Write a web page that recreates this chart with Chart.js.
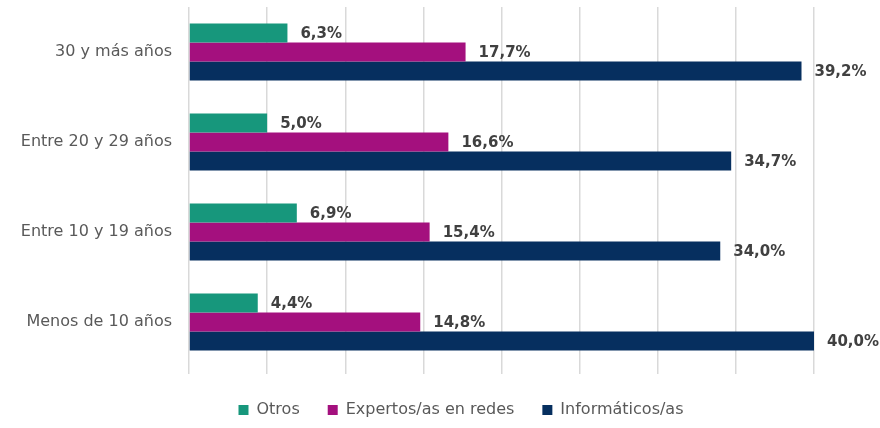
<!DOCTYPE html>
<html>
<head>
<meta charset="utf-8">
<script src="https://cdn.jsdelivr.net/npm/chart.js@4"></script>
<style>
  html, body { margin: 0; padding: 0; background: #fff; }
  #wrap { width: 880px; height: 428px; }
</style>
</head>
<body>
<div id="wrap"><canvas id="chart" width="880" height="428"></canvas></div>
<script>
const categories = ['30 y más años', 'Entre 20 y 29 años', 'Entre 10 y 19 años', 'Menos de 10 años'];
const seriesNames = ['Otros', 'Expertos/as en redes', 'Informáticos/as'];
const otros = [6.3, 5.0, 6.9, 4.4];
const expertos = [17.7, 16.6, 15.4, 14.8];
const informaticos = [39.2, 34.7, 34.0, 40.0];
const colors = ['#17977c', '#a4107e', '#062f5f'];

const fontFamily = "'DejaVu Sans', sans-serif";

// draws the value labels at the end of each bar
const valueLabels = {
  id: 'valueLabels',
  afterDatasetsDraw(chart) {
    const ctx = chart.ctx;
    ctx.save();
    ctx.font = 'bold 15px ' + fontFamily;
    ctx.fillStyle = '#404040';
    ctx.textAlign = 'left';
    ctx.textBaseline = 'middle';
    chart.data.datasets.forEach((ds, i) => {
      chart.getDatasetMeta(i).data.forEach((bar, j) => {
        const txt = ds.data[j].toFixed(1).replace('.', ',') + '%';
        ctx.fillText(txt, bar.x + 13, bar.y + 1);
      });
    });
    ctx.restore();
  }
};

// the legend in the original sits a bit right of the canvas centre
const legendShift = {
  id: 'legendShift',
  afterLayout(chart) {
    chart.legend.left += 54;
    chart.legend.right += 54;
  }
};

new Chart(document.getElementById('chart'), {
  type: 'bar',
  data: {
    labels: categories,
    datasets: [
      { label: seriesNames[0], data: otros, backgroundColor: colors[0] },
      { label: seriesNames[1], data: expertos, backgroundColor: colors[1] },
      { label: seriesNames[2], data: informaticos, backgroundColor: colors[2] }
    ]
  },
  options: {
    indexAxis: 'y',
    responsive: false,
    animation: false,
    layout: { padding: { top: 7, right: 66, bottom: 0, left: 0 } },
    datasets: {
      bar: { categoryPercentage: 0.633, barPercentage: 1.0 }
    },
    scales: {
      x: {
        min: 0,
        max: 40,
        ticks: { display: false, stepSize: 5 },
        grid: { color: '#d9d9d9', lineWidth: 1.5, tickLength: 7, drawTicks: true },
        border: { display: false }
      },
      y: {
        grid: { display: false, drawTicks: false },
        border: { display: false },
        ticks: {
          color: '#595959',
          padding: 17,
          font: { family: fontFamily, size: 16 }
        },
        afterFit(scale) {
          scale.width = 189;
          scale.paddingTop = 0;
          scale.paddingBottom = 0;
        }
      }
    },
    plugins: {
      legend: {
        position: 'bottom',
        maxHeight: 54,
        labels: {
          color: '#595959',
          boxWidth: 10,
          boxHeight: 10,
          padding: 28,
          font: { family: fontFamily, size: 16 }
        }
      },
      tooltip: { enabled: false }
    }
  },
  plugins: [valueLabels, legendShift]
});
</script>
</body>
</html>
